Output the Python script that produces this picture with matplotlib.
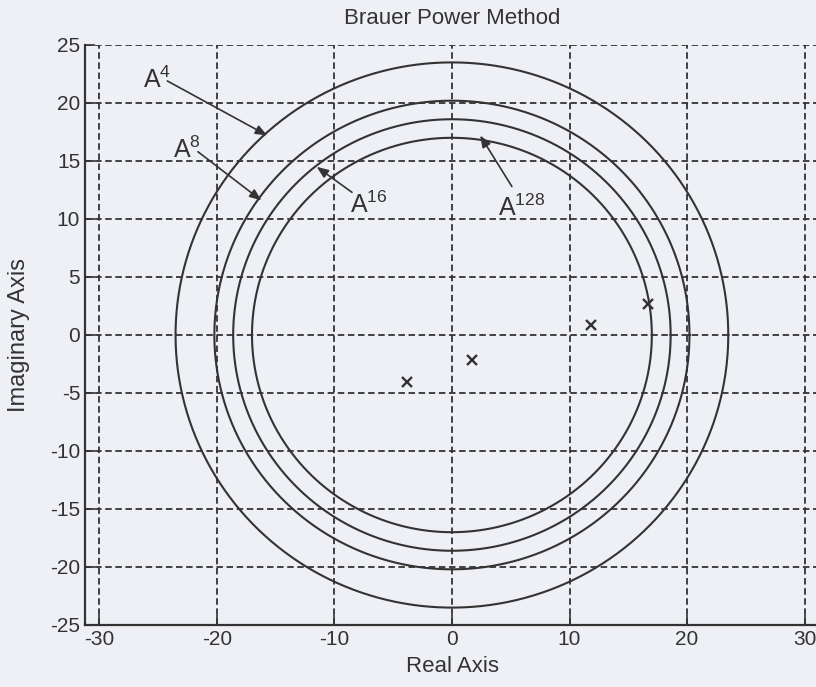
import matplotlib.pyplot as plt
import numpy as np

# Brauer ovals (drawn as circles) for A^4, A^8, A^16, A^128
powers = ['4', '8', '16', '128']
radii = [23.5, 20.2, 18.6, 17.0]
# eigenvalues
eig_re = [-3.8, 1.7, 11.8, 16.7]
eig_im = [-4.05, -2.15, 0.85, 2.65]
# label positions (baseline) and arrow ends
label_xy = [(-26.3, 21.3), (-23.7, 15.3), (-8.7, 10.5), (3.9, 10.3)]
tail_xy = [(-24.2, 21.9), (-21.6, 15.8), (-8.5, 12.3), (5.1, 12.8)]
tip_xy = [(-15.7, 17.2), (-16.2, 11.6), (-11.5, 14.5), (2.4, 17.2)]

ink = '#333333'
bg = '#eef0f5'
plt.rcParams['font.family'] = ['Liberation Sans', 'DejaVu Sans']
plt.rcParams['axes.unicode_minus'] = False
plt.rcParams['mathtext.fontset'] = 'custom'
plt.rcParams['mathtext.rm'] = 'Liberation Sans'

fig = plt.figure(figsize=(8.16, 6.87), dpi=100, facecolor=bg)
ax = fig.add_axes([85 / 816, 62 / 687, 735 / 816, 580 / 687])
ax.set_facecolor(bg)

theta = np.linspace(0, 2 * np.pi, 400)
for r in radii:
    ax.plot(r * np.cos(theta), r * np.sin(theta), color=ink, lw=1.5)

ax.plot(eig_re, eig_im, 'x', color=ink, ms=7, mew=1.7)

for p, lab, tail, tip in zip(powers, label_xy, tail_xy, tip_xy):
    ax.text(lab[0], lab[1], r'A$^{\mathrm{' + p + '}}$', fontsize=18, color=ink,
            ha='left', va='baseline')
    ax.annotate('', xy=tip, xytext=tail,
                arrowprops=dict(arrowstyle='-|>,head_length=0.5,head_width=0.2',
                                color=ink, lw=1.2,
                                mutation_scale=14, shrinkA=0, shrinkB=0))

ax.set_xlim(-31.2, 31.3)
ax.set_ylim(-25, 25)
ax.set_xticks(np.arange(-30, 31, 10))
ax.set_yticks(np.arange(-25, 26, 5))
ax.grid(True, color=ink, linestyle=(0, (3.6, 2.0)), linewidth=1.3)
ax.set_axisbelow(True)
ax.tick_params(direction='in', length=7, width=1.2, colors=ink,
               labelsize=15, top=False, right=False)
ax.spines['top'].set_visible(False)
ax.spines['right'].set_visible(False)
for s in ['left', 'bottom']:
    ax.spines[s].set_color(ink)
    ax.spines[s].set_linewidth(1.6)

ax.set_title('Brauer Power Method', fontsize=16, color=ink, pad=15)
ax.set_xlabel('Real Axis', fontsize=16, color=ink, labelpad=5)
ax.set_ylabel('Imaginary Axis', fontsize=17, color=ink, labelpad=14)

fig.savefig('out.png', dpi=100, facecolor=bg)
